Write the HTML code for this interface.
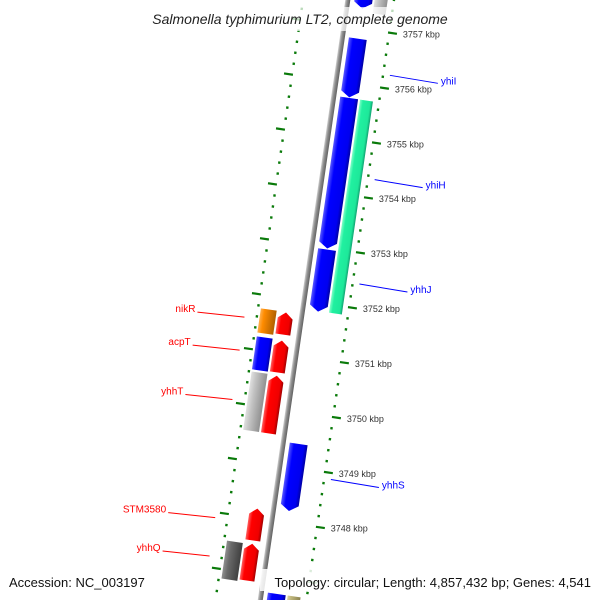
<!DOCTYPE html>
<html><head><meta charset="utf-8"><style>
html,body{margin:0;padding:0;background:#fff;overflow:hidden;width:600px;height:600px;}
svg{display:block;font-family:"Liberation Sans",sans-serif;overflow:hidden;}
</style></head><body>
<svg id="map" width="600" height="600" viewBox="0 0 600 600" xmlns="http://www.w3.org/2000/svg">
<defs>
<clipPath id="clipAll"><rect x="0" y="0" width="600" height="600"/></clipPath>
<linearGradient id="gBlue" x1="0" x2="1" y1="0" y2="0"><stop offset="0" stop-color="#5a5aff"/><stop offset="0.25" stop-color="#0000ff"/><stop offset="0.8" stop-color="#0000f0"/><stop offset="1" stop-color="#0000a0"/></linearGradient>
<linearGradient id="gRed" x1="0" x2="1"><stop offset="0" stop-color="#ff6060"/><stop offset="0.25" stop-color="#ff0000"/><stop offset="0.8" stop-color="#f00000"/><stop offset="1" stop-color="#a00000"/></linearGradient>
<linearGradient id="gGreen" x1="0" x2="1"><stop offset="0" stop-color="#80ffc8"/><stop offset="0.25" stop-color="#20f0a0"/><stop offset="0.8" stop-color="#1ee89a"/><stop offset="1" stop-color="#10a070"/></linearGradient>
<linearGradient id="gOrange" x1="0" x2="1"><stop offset="0" stop-color="#ffb050"/><stop offset="0.25" stop-color="#ff8c00"/><stop offset="1" stop-color="#b06000"/></linearGradient>
<linearGradient id="gLight" x1="0" x2="1"><stop offset="0" stop-color="#e0e0e0"/><stop offset="0.3" stop-color="#c4c4c4"/><stop offset="1" stop-color="#909090"/></linearGradient>
<linearGradient id="gDark" x1="0" x2="1"><stop offset="0" stop-color="#909090"/><stop offset="0.3" stop-color="#6a6a6a"/><stop offset="1" stop-color="#404040"/></linearGradient>
<linearGradient id="gKhaki" x1="0" x2="1"><stop offset="0" stop-color="#d8d0a0"/><stop offset="0.3" stop-color="#bdb47a"/><stop offset="1" stop-color="#8a8250"/></linearGradient>
<linearGradient id="gBack" x1="0" x2="1"><stop offset="0" stop-color="#d0d0d0"/><stop offset="0.4" stop-color="#909090"/><stop offset="1" stop-color="#606060"/></linearGradient>
</defs>
<g clip-path="url(#clipAll)">
<g id="frame" transform="translate(392,33) rotate(8.3)"></g>
<g id="labels"></g>
</g>
<rect x="132" y="7" width="336" height="24" fill="#fff" fill-opacity="0.72"/>
<text x="300" y="24" text-anchor="middle" font-size="14" font-style="italic" fill="#222">Salmonella typhimurium LT2, complete genome</text>
<text x="9" y="587" font-size="13" fill="#111">Accession: NC_003197</text>
<rect x="260" y="569" width="340" height="22" fill="#fff" fill-opacity="0.85"/>
<text x="591" y="587" text-anchor="end" font-size="13" fill="#111">Topology: circular; Length: 4,857,432 bp; Genes: 4,541</text>
</svg>
<script>
const NS="http://www.w3.org/2000/svg";
// data
const tickKbp=[3758,3757,3756,3755,3754,3753,3752,3751,3750,3749,3748,3747,3746];
const tickLabels=["","3757 kbp","3756 kbp","3755 kbp","3754 kbp","3753 kbp","3752 kbp","3751 kbp","3750 kbp","3749 kbp","3748 kbp","",""];
const geneNames=["geneTop","yhiI","yhiH","yhhJ","yhhS","geneBottom","greenFeature","grayTop","khakiBottom","nikR","nikR2","acpT","acpT2","yhhT","yhhT2","STM3580","yhhQ","yhhQ2"];
const geneStart=[3758.0,3756.81,3755.73,3752.97,3749.43,3746.70,3755.73,3758.0,3746.70,3751.74,3751.75,3751.23,3751.24,3750.59,3750.60,3748.17,3747.52,3747.53];
const geneEnd=[3757.36,3755.74,3752.99,3751.84,3748.21,3746.2,3751.85,3757.30,3746.2,3751.34,3751.31,3750.65,3750.64,3749.54,3749.54,3747.59,3746.83,3746.86];
const geneTrack=["R1","R1","R1","R1","R1","R1","R2","R2","R2","L1","L2","L1","L2","L1","L2","L1","L2","L1"];
const geneDir=[-1,-1,-1,-1,-1,0,0,0,0,1,0,1,0,1,0,1,0,1];
const geneFill=["gBlue","gBlue","gBlue","gBlue","gBlue","gBlue","gGreen","gLight","gKhaki","gRed","gOrange","gRed","gBlue","gRed","gLight","gRed","gDark","gRed"];
const labelNames=["yhiI","yhiH","yhhJ","yhhS","nikR","acpT","yhhT","STM3580","yhhQ"];
const labelKbp=[3756.24,3754.34,3752.44,3748.88,3751.55,3750.95,3750.05,3747.9,3747.2];
const labelSide=["R","R","R","R","L","L","L","L","L"];

const KMAX=3757, PX=55.5;
function sOf(k){return (KMAX-k)*PX;}
const trackT={R1:[-42,-24],R2:[-22,-9],L1:[-72,-57],L2:[-90,-74]};
const frame=document.getElementById('frame');
const labels=document.getElementById('labels');
function mk(tag,attrs,parent){const e=document.createElementNS(NS,tag);for(const k in attrs)e.setAttribute(k,attrs[k]);parent.appendChild(e);return e;}

// backbone
const bb=mk('rect',{x:-51,y:sOf(3758.2),width:5,height:sOf(3746.2)-sOf(3758.2),fill:'url(#gBack)'},frame);



// dotted ruler lines
for(let k=Math.round(3746.4*5);k<=Math.round(3758*5);k++){
  const kb=k/5;const s=sOf(kb);
  const major=(k%5===0);
  if(major){
    const r=mk('rect',{x:-4,y:s-1,width:9,height:2.2,fill:'#0a7a0a'},frame);
    
    
    const l=mk('rect',{x:-101,y:s-1,width:9,height:2.2,fill:'#0a7a0a'},frame);
    
    
  }else{
    const r=mk('rect',{x:-4,y:s-1,width:2.4,height:2.4,fill:'#0a7a0a'},frame);
    
    
    const l=mk('rect',{x:-94,y:s-1,width:2.4,height:2.4,fill:'#0a7a0a'},frame);
    
    
  }
}
// frame -> screen
const th=8.3*Math.PI/180,C=Math.cos(th),S=Math.sin(th);
function toScreen(t,s){return [392+t*C-s*S,33+t*S+s*C];}
// tick labels
tickKbp.forEach((k,i)=>{
  if(!tickLabels[i])return;
  const p=toScreen(10,sOf(k));
  const tx=mk('text',{x:p[0]+1,y:p[1]+3,'font-size':9,fill:'#333'},labels);
  tx.textContent=tickLabels[i];
  
  
});
// genes
geneNames.forEach((n,i)=>{
  const [t1,t2]=trackT[geneTrack[i]];
  const a=sOf(geneStart[i]),b=sOf(geneEnd[i]);
  const tm=(t1+t2)/2,h=6;
  let pts;
  if(geneDir[i]<0) pts=[[t1,a],[t2,a],[t2,b-h],[tm,b],[t1,b-h]];
  else if(geneDir[i]>0) pts=[[tm,a],[t2,a+h],[t2,b],[t1,b],[t1,a+h]];
  else pts=[[t1,a],[t2,a],[t2,b],[t1,b]];
  const p=mk('polygon',{points:pts.map(q=>q.join(',')).join(' '),fill:'url(#'+geneFill[i]+')'},frame);
  
  
});
// gene labels
labelNames.forEach((n,i)=>{
  const s=sOf(labelKbp[i]);
  let a,b,tx;
  if(labelSide[i]==='R'){
    a=toScreen(4,s);b=[a[0]+48,a[1]+8];
    tx=mk('text',{x:b[0]+3,y:b[1]+1,'font-size':10,fill:'#0000ff'},labels);
  }else{
    a=toScreen(-105,s);b=[a[0]-47,a[1]-5];
    tx=mk('text',{x:b[0]-2,y:b[1]+0,'font-size':10,fill:'#ff0000','text-anchor':'end'},labels);
  }
  tx.textContent=n;
  
  
  const ln=mk('line',{x1:a[0],y1:a[1],x2:b[0],y2:b[1],stroke:labelSide[i]==='R'?'#0000ff':'#ff0000','stroke-width':1},labels);
  
  
});
</script>
</body></html>
